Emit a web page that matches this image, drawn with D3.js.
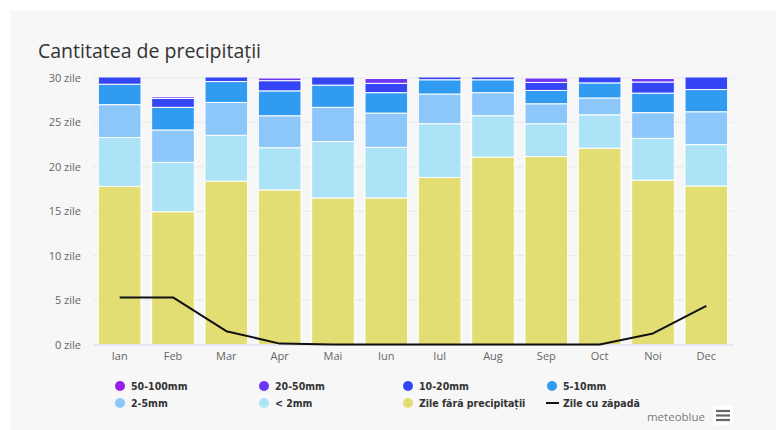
<!DOCTYPE html>
<html>
<head>
<meta charset="utf-8">
<script src="https://cdn.jsdelivr.net/npm/d3@7"></script>
<style>
  html, body { margin: 0; padding: 0; background: #ffffff; }
  svg { display: block; }
</style>
</head>
<body>
<svg id="chart" width="776" height="430"></svg>
<script>
const months = ["Ian","Feb","Mar","Apr","Mai","Iun","Iul","Aug","Sep","Oct","Noi","Dec"];
const dryDays   = [17.8, 14.95, 18.4, 17.4, 16.5, 16.5, 18.8, 21.1, 21.15, 22.1, 18.5, 17.85];
const under2mm  = [5.5, 5.55, 5.15, 4.75, 6.35, 5.7, 6.05, 4.65, 3.7, 3.75, 4.7, 4.65];
const mm2to5    = [3.7, 3.65, 3.7, 3.6, 3.85, 3.85, 3.35, 2.6, 2.25, 1.9, 2.9, 3.7];
const mm5to10   = [2.3, 2.55, 2.35, 2.8, 2.5, 2.3, 1.6, 1.45, 1.5, 1.7, 2.2, 2.5];
const mm10to20  = [1.7, 1.0, 1.3, 1.15, 1.8, 1.05, 1.1, 1.1, 0.9, 1.5, 1.25, 2.25];
const mm20to50  = [0.0, 0.2, 0.1, 0.3, 0.0, 0.55, 0.1, 0.1, 0.5, 0.05, 0.4, 0.05];
const mm50to100 = [0, 0.05, 0, 0, 0, 0.05, 0, 0, 0, 0, 0.05, 0];
const snowDays  = [5.3, 5.3, 1.5, 0.1, 0, 0, 0, 0, 0, 0, 1.25, 4.35];
const yTicks = [0, 5, 10, 15, 20, 25, 30];

const seriesDefs = [
  { key: "dry",  name: "Zile fără precipitații", values: dryDays,   color: "#e3de73" },
  { key: "lt2",  name: "< 2mm",    values: under2mm,  color: "#ade3f7" },
  { key: "m2",   name: "2-5mm",    values: mm2to5,    color: "#8dc7f9" },
  { key: "m5",   name: "5-10mm",   values: mm5to10,   color: "#309bf1" },
  { key: "m10",  name: "10-20mm",  values: mm10to20,  color: "#3445f6" },
  { key: "m20",  name: "20-50mm",  values: mm20to50,  color: "#6c36f4" },
  { key: "m50",  name: "50-100mm", values: mm50to100, color: "#9a1eea" }
];

(function () {
const svg = d3.select("#chart");
svg.append("rect").attr("x", 10).attr("y", 10).attr("width", 766).attr("height", 420).attr("fill", "#f7f7f7");

svg.append("text").attr("x", 38).attr("y", 58)
  .attr("font-family", "'Open Sans', sans-serif").attr("font-size", 19.5).attr("fill", "#333")
  .text("Cantitatea de precipitații");

const pLeft = 93, pRight = 733, pTop = 78, pBottom = 344.5;
const x = d3.scaleBand().domain(months).range([pLeft, pRight]).paddingInner(0.2).paddingOuter(0.1);
const y = d3.scaleLinear().domain([0, 30]).range([pBottom, pTop]);

svg.append("g").selectAll("line").data(yTicks.filter(t => t > 0)).join("line")
  .attr("x1", pLeft).attr("x2", pRight).attr("y1", d => y(d)).attr("y2", d => y(d))
  .attr("stroke", "#e8e8e8").attr("stroke-width", 1);

const yAxis = d3.axisLeft(y).tickValues(yTicks).tickSize(0).tickPadding(12).tickFormat(d => d + " zile");
const gy = svg.append("g").attr("transform", `translate(${pLeft},0)`).call(yAxis);
gy.select(".domain").remove();
gy.selectAll("text").attr("font-family", "'Open Sans', sans-serif").attr("font-size", 11).attr("fill", "#666");

svg.append("clipPath").attr("id", "plotclip").append("rect")
  .attr("x", pLeft).attr("y", pTop - 0.5).attr("width", pRight - pLeft).attr("height", pBottom - pTop + 0.5);

const tableRows = months.map((m, i) => {
  const r = { month: m };
  seriesDefs.forEach(s => r[s.key] = s.values[i]);
  return r;
});
const stacked = d3.stack().keys(seriesDefs.map(s => s.key))(tableRows);

const barsG = svg.append("g").attr("clip-path", "url(#plotclip)");
stacked.forEach((layer, li) => {
  barsG.append("g").selectAll("rect").data(layer).join("rect")
    .attr("x", d => x(d.data.month))
    .attr("width", x.bandwidth())
    .attr("y", d => y(d[1]))
    .attr("height", d => Math.max(0, y(d[0]) - y(d[1])))
    .attr("fill", seriesDefs[li].color)
    .attr("stroke", "#ffffff").attr("stroke-width", d => (d[1] - d[0]) > 0 ? 1 : 0);
});

const xAxis = d3.axisBottom(x).tickSize(0).tickPadding(8);
const gx = svg.append("g").attr("transform", `translate(0,${pBottom})`).call(xAxis);
gx.select(".domain").attr("stroke", "#ccd6eb");
gx.selectAll("text").attr("font-family", "'Open Sans', sans-serif").attr("font-size", 11).attr("fill", "#666");

const line = d3.line().x((d, i) => x(months[i]) + x.bandwidth() / 2).y(d => y(d));
svg.append("path").datum(snowDays).attr("d", line)
  .attr("fill", "none").attr("stroke", "#111").attr("stroke-width", 2).attr("stroke-linejoin", "round");

const legendItems = [
  { name: "50-100mm", color: "#9a1eea" },
  { name: "20-50mm", color: "#6c36f4" },
  { name: "10-20mm", color: "#3445f6" },
  { name: "5-10mm", color: "#309bf1" },
  { name: "2-5mm", color: "#8dc7f9" },
  { name: "< 2mm", color: "#ade3f7" },
  { name: "Zile fără precipitații", color: "#e3de73" },
  { name: "Zile cu zăpadă", color: "#111", isLine: true }
];
const lg = svg.append("g");
legendItems.forEach((it, i) => {
  const col = i % 4, row = Math.floor(i / 4);
  const cx = 120 + col * 144, cy = 386 + row * 17;
  if (it.isLine) {
    lg.append("line").attr("x1", cx - 6).attr("x2", cx + 7).attr("y1", cy).attr("y2", cy)
      .attr("stroke", it.color).attr("stroke-width", 2);
  } else {
    lg.append("circle").attr("cx", cx).attr("cy", cy).attr("r", 5).attr("fill", it.color);
  }
  lg.append("text").attr("x", cx + 11).attr("y", cy + 4)
    .attr("font-family", "'DejaVu Sans Condensed', 'DejaVu Sans', sans-serif")
    .attr("font-stretch", "condensed").attr("font-weight", "bold")
    .attr("font-size", 10.5).attr("fill", "#333").text(it.name);
});

svg.append("text").attr("x", 705).attr("y", 421).attr("text-anchor", "end")
  .attr("font-family", "'Open Sans', sans-serif").attr("font-size", 11.5).attr("fill", "#777")
  .text("meteoblue");
svg.append("rect").attr("x", 713).attr("y", 406).attr("width", 20).attr("height", 19).attr("rx", 2).attr("fill", "#ffffff");
[0, 1, 2].forEach(k => {
  svg.append("line").attr("x1", 716).attr("x2", 730).attr("y1", 411 + k * 4.5).attr("y2", 411 + k * 4.5)
    .attr("stroke", "#666").attr("stroke-width", 2.2);
});
})();
</script>
</body>
</html>
